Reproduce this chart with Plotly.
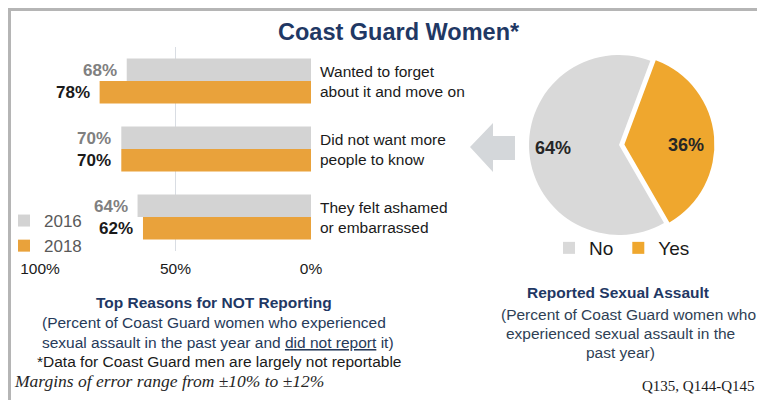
import plotly.graph_objects as go

W, H = 765, 400
OFF = 8  # page body margin offset


def px(x):
    return (x - OFF) / W


def py(y):
    return 1 - (y - OFF) / H


# ---------------- data ----------------
reasons = ["Wanted to forget<br>about it and move on",
           "Did not want more<br>people to know",
           "They felt ashamed<br>or embarrassed"]
reason_keys = ["forget", "more", "ashamed"]
vals_2016 = [68, 70, 64]
vals_2018 = [78, 70, 62]
years = ["2016", "2018"]
pie_labels = ["No", "Yes"]
pie_values = [64, 36]
x_ticks = [100, 50, 0]
x_ticklabels = ["100%", "50%", "0%"]

GRAY_BAR = "#d3d3d3"
ORANGE = "#e9a23b"
PIE_GRAY = "#d9d9d9"
PIE_ORANGE = "#efa72e"
NAVY = "#1f3864"
FONT = "Liberation Sans, Arial, sans-serif"

fig = go.Figure()

fig.add_trace(go.Bar(
    y=reason_keys, x=vals_2016, orientation="h", name=years[0],
    marker=dict(color=GRAY_BAR, line=dict(width=0)),
    legend="legend", hoverinfo="skip",
))
fig.add_trace(go.Bar(
    y=reason_keys, x=vals_2018, orientation="h", name=years[1],
    marker=dict(color=ORANGE, line=dict(width=0)),
    legend="legend", hoverinfo="skip",
))

fig.add_trace(go.Pie(
    labels=pie_labels, values=pie_values, sort=False, direction="clockwise",
    rotation=150, pull=[0, 0.06],
    marker=dict(colors=[PIE_GRAY, PIE_ORANGE], line=dict(width=0)),
    textinfo="none",
    domain=dict(x=[px(523.6), px(714.4)], y=[py(240.4), py(49.6)]),
    legend="legend2", hoverinfo="skip",
))

annotations = []
# value labels beside bars
for key, v16, v18 in zip(reason_keys, vals_2016, vals_2018):
    annotations.append(dict(xref="x", yref="y", x=v16, y=key, text=f"<b>{v16}%</b>",
                            xanchor="right", yanchor="middle", xshift=-8, yshift=11,
                            showarrow=False, font=dict(size=17, color="#808080", family=FONT)))
    annotations.append(dict(xref="x", yref="y", x=v18, y=key, text=f"<b>{v18}%</b>",
                            xanchor="right", yanchor="middle", xshift=-8, yshift=-11,
                            showarrow=False, font=dict(size=17, color="#1a1a1a", family=FONT)))
# category labels right of axis
for key, lab in zip(reason_keys, reasons):
    annotations.append(dict(xref="paper", yref="y", x=px(318), y=key, text=lab,
                            xanchor="left", yanchor="middle", align="left", showarrow=False,
                            font=dict(size=15.5, color="#1a1a1a", family=FONT)))


def txt(x, y, text, size=15, color="#1a1a1a", anchor="center", family=FONT):
    annotations.append(dict(xref="paper", yref="paper", x=px(x), y=py(y), text=text,
                            xanchor=anchor, yanchor="middle", showarrow=False,
                            font=dict(size=size, color=color, family=family)))


# pie percentage labels
pie_label_pos = [(553, 148), (686, 145)]
for (lx, ly), v in zip(pie_label_pos, pie_values):
    txt(lx, ly, f"<b>{v}%</b>", size=18, color="#262626")

txt(399, 32, "<b>Coast Guard Women*</b>", size=23.5, color=NAVY)
txt(214, 302, "<b>Top Reasons for NOT Reporting</b>", size=15.5, color=NAVY)
txt(214, 322, "(Percent of Coast Guard women who experienced", size=15.5, color="#263a5a")
txt(218, 342, "sexual assault in the past year and <u>did not report</u> it)", size=15.5, color="#263a5a")
txt(219, 361, "*Data for Coast Guard men are largely not reportable", size=15.5, color="#1a1a1a")
txt(12, 381, "<i>Margins of error range from ±10% to ±12%</i>", size=17.5, color="#262626",
    anchor="left", family="Liberation Serif, Times New Roman, serif")
txt(618, 292, "<b>Reported Sexual Assault</b>", size=15.5, color=NAVY)
txt(628, 314, "(Percent of Coast Guard women who", size=15.5, color="#2f3f55")
txt(620, 333, "experienced sexual assault in the", size=15.5, color="#2f3f55")
txt(620, 352, "past year)", size=15.5, color="#2f3f55")
txt(757, 386, "Q135, Q144-Q145", size=15, color="#1a1a1a", anchor="right",
    family="Liberation Serif, Times New Roman, serif")

shapes = [
    # frame
    dict(type="rect", xref="paper", yref="paper", x0=px(8), x1=1, y0=py(11), y1=py(8),
         fillcolor="#b5b5b5", line=dict(width=0), layer="above"),
    dict(type="rect", xref="paper", yref="paper", x0=px(8), x1=px(11), y0=0, y1=py(8),
         fillcolor="#b5b5b5", line=dict(width=0), layer="above"),
    # arrow
    dict(type="path", xref="paper", yref="paper",
         path=(f"M {px(470)} {py(147)} L {px(493)} {py(123)} L {px(493)} {py(136)} "
               f"L {px(515)} {py(136)} L {px(515)} {py(160)} L {px(493)} {py(160)} "
               f"L {px(493)} {py(172)} Z"),
         fillcolor="#d4d7da", line=dict(width=0)),
]

fig.update_layout(
    width=W, height=H,
    margin=dict(l=0, r=0, t=0, b=0, autoexpand=False),
    paper_bgcolor="white", plot_bgcolor="white",
    barmode="group", bargap=0.34, bargroupgap=0,
    font=dict(family=FONT, color="#1a1a1a"),
    xaxis=dict(domain=[px(40), px(311)], range=[100, 0], tickvals=x_ticks,
               ticktext=x_ticklabels, showgrid=True, gridcolor="#d9dde3", gridwidth=1,
               zeroline=False, showline=False, ticks="", ticklabelstandoff=6,
               automargin=False,
               tickfont=dict(size=15.5, color="#1a1a1a", family=FONT), fixedrange=True),
    yaxis=dict(domain=[py(251), py(47)], range=[2.5, -0.5], showticklabels=False,
               automargin=False,
               showgrid=False, zeroline=False, showline=False, ticks="", fixedrange=True),
    legend=dict(x=px(4), y=py(203), xanchor="left", yanchor="top", orientation="v",
                font=dict(size=17, color="#595959", family=FONT), bgcolor="rgba(0,0,0,0)",
                itemwidth=30, tracegroupgap=0, traceorder="normal"),
    legend2=dict(x=px(622), y=py(248), xanchor="center", yanchor="middle", orientation="h",
                 font=dict(size=19, color="#1a1a1a", family=FONT), bgcolor="rgba(0,0,0,0)",
                 itemwidth=30),
    annotations=annotations,
    shapes=shapes,
    showlegend=True,
)

fig.write_html("out.html")
